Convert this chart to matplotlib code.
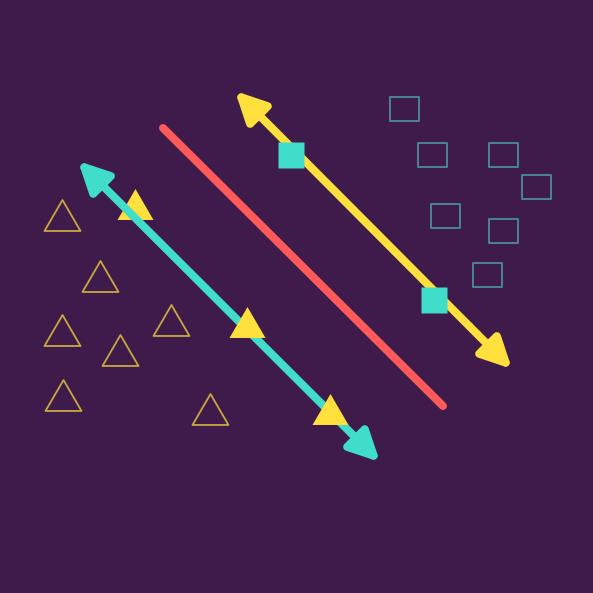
import numpy as np
import matplotlib
matplotlib.use("Agg")
import matplotlib.pyplot as plt
from matplotlib.path import Path
from matplotlib.patches import FancyArrowPatch, ArrowStyle

bg = "#3e1b4b"
cyan = "#40ddcb"
yellow = "#ffe03d"
red = "#ff5a5a"

# hollow class A (triangles), pixel coords of centres
tri_x = [62, 100, 62, 120, 171, 63, 210]
tri_y = [215, 276, 330, 350, 320, 395, 409]
# support vectors class A
sv_tri_x = [135, 247, 330]
sv_tri_y = [204, 322, 409]
# hollow class B (squares)
sq_x = [403.5, 432, 502.5, 535.5, 444.5, 502.5, 486.5]
sq_y = [108.5, 154.5, 154.5, 186.5, 215.5, 230.5, 274.5]
# support vectors class B
sv_sq_x = [291, 434]
sv_sq_y = [155, 300]

# decision boundary and margins (end points)
hyper_x = [163, 443]
hyper_y = [128, 406]
margin_a = [(78, 161), (380, 462)]
margin_b = [(235, 91), (512, 369)]

px = 0.72  # points per pixel at dpi 100

tri_marker = Path([(0, 0.86), (-1, -0.86), (1, -0.86), (0, 0.86)], closed=True)
rect_marker = Path([(-1, -0.86), (1, -0.86), (1, 0.86), (-1, 0.86), (-1, -0.86)], closed=True)

fig = plt.figure(figsize=(5.93, 5.93), dpi=100)
fig.patch.set_facecolor(bg)
ax = fig.add_axes([0, 0, 1, 1])
ax.set_facecolor(bg)
ax.set_xlim(0, 593)
ax.set_ylim(593, 0)
ax.axis("off")

ax.plot(tri_x, tri_y, ls="none", marker=tri_marker, ms=36 * px, mfc="none",
        mec="#c9a83f", mew=1.3, zorder=2)
ax.plot(sq_x, sq_y, ls="none", marker=rect_marker, ms=29 * px, mfc="none",
        mec="#4a8c9a", mew=1.3, zorder=2)

ax.plot(hyper_x, hyper_y, color=red, lw=8 * px, solid_capstyle="round", zorder=3)

style = ArrowStyle("<|-|>", head_length=18, head_width=9)
for (p0, p1, c) in [(margin_a[0], margin_a[1], cyan), (margin_b[0], margin_b[1], yellow)]:
    arr = FancyArrowPatch(p0, p1, arrowstyle=style, mutation_scale=1, color=c,
                          lw=8 * px, shrinkA=0, shrinkB=0, joinstyle="round",
                          capstyle="round", zorder=4)
    ax.add_patch(arr)

# first support triangle sits under the cyan margin, the others on top
ax.plot(sv_tri_x[:1], sv_tri_y[:1], ls="none", marker=tri_marker, ms=36 * px,
        mfc=yellow, mec="none", zorder=3.5)
ax.plot(sv_tri_x[1:], sv_tri_y[1:], ls="none", marker=tri_marker, ms=36 * px,
        mfc=yellow, mec="none", zorder=5)
ax.plot(sv_sq_x, sv_sq_y, ls="none", marker="s", ms=26 * px, mfc=cyan,
        mec="none", zorder=5)

fig.savefig("out.png", dpi=100, facecolor=bg)
